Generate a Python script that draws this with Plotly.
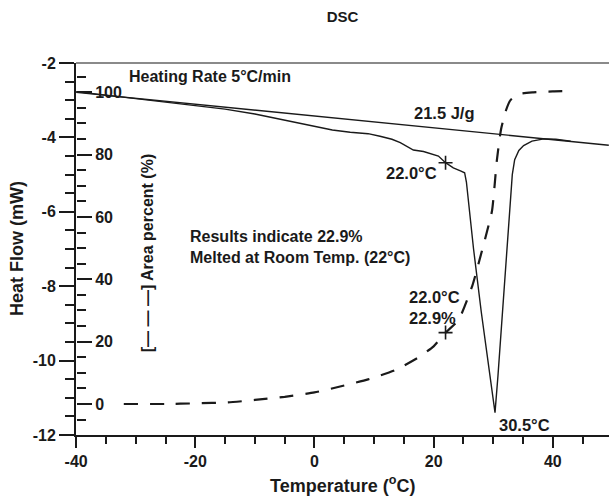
import plotly.graph_objects as go

# ---------------- data ----------------
dsc_temp = [-40, -35, -30, -25, -20, -15, -10, -6, -3, 0, 3, 6, 9, 11, 13, 14.4, 15.5, 16.6,
            18.3, 20, 20.8, 22, 23.3, 24.5, 25.2, 25.5, 26.7, 28, 29.3, 30.3, 30.8, 31.5, 32.2,
            32.8, 33.2, 33.6, 34.3, 35.1, 36.5, 38.5, 40.5, 43]
dsc_heat = [-2.77, -2.86, -2.95, -3.04, -3.13, -3.24, -3.37, -3.5, -3.6, -3.7, -3.8, -3.86, -3.9,
            -3.97, -4.05, -4.14, -4.25, -4.34, -4.38, -4.45, -4.5, -4.68, -4.82, -4.9, -4.95, -5.2,
            -7.0, -8.7, -10.2, -11.4, -10.4, -8.8, -7.03, -5.8, -5.0, -4.6, -4.35, -4.22, -4.1,
            -4.04, -4.05, -4.1]

base_temp = [-40, 49.4]
base_heat = [-2.79, -4.21]

area_temp = [-32, -25, -20, -14.5, -10, -5, 0, 4.3, 9, 13.6, 17.5, 20, 22, 24.2, 26.5, 28.5,
             29.8, 30.6, 31.3, 32.1, 32.9, 34.5, 36.7, 40, 43]
area_pct = [0, 0, 0.2, 0.5, 1.3, 2.3, 3.7, 5.6, 7.9, 10.9, 15, 18.5, 22.9, 27, 38, 52,
            62, 78, 88, 94, 97.5, 99.5, 100, 100.3, 100.4]

mark_temp = [22.0]
mark_heat = [-4.68]
mark_pct = [22.9]

x_ticks = [-40, -20, 0, 20, 40]
x_labels = ["-40", "-20", "0", "20", "40"]
y_ticks = [-12, -10, -8, -6, -4, -2]
y_labels = ["-12", "-10", "-8", "-6", "-4", "-2"]
y2_ticks = [0, 20, 40, 60, 80, 100]
y2_labels = ["0", "20", "40", "60", "80", "100"]

FONT = "Liberation Sans, Arial, Helvetica, sans-serif"
INK = "#1a1a1a"

fig = go.Figure()

fig.add_trace(go.Scatter(x=base_temp, y=base_heat, mode="lines",
                         line=dict(color=INK, width=1.4), showlegend=False, hoverinfo="skip"))
fig.add_trace(go.Scatter(x=dsc_temp, y=dsc_heat, mode="lines",
                         line=dict(color=INK, width=1.4), showlegend=False))
fig.add_trace(go.Scatter(x=area_temp, y=area_pct, yaxis="y2", mode="lines",
                         line=dict(color=INK, width=2.2, dash="14px,12px", shape="spline",
                                   smoothing=0.5),
                         showlegend=False))
fig.add_trace(go.Scatter(x=mark_temp, y=mark_heat, mode="markers",
                         marker=dict(symbol="cross-thin", size=10, line=dict(width=1.6, color=INK)),
                         showlegend=False))
fig.add_trace(go.Scatter(x=mark_temp, y=mark_pct, yaxis="y2", mode="markers",
                         marker=dict(symbol="cross-thin", size=10, line=dict(width=1.6, color=INK)),
                         showlegend=False))

tickfont = dict(family=FONT, size=16, color=INK, weight="bold")

fig.update_layout(
    width=609, height=497,
    margin=dict(l=76, r=0, t=63, b=62, autoexpand=False),
    paper_bgcolor="white", plot_bgcolor="white",
    font=dict(family=FONT, color=INK),
    title=dict(text="<b>DSC</b>", x=0.5, xref="paper", xanchor="center",
               y=1 - 17 / 497, yanchor="middle", font=dict(size=15, family=FONT, color=INK)),
    xaxis=dict(range=[-40.02, 49.43], tickmode="array", tickvals=x_ticks, ticktext=x_labels,
               ticks="outside", ticklen=11, tickwidth=1.5, tickcolor=INK,
               showline=True, linecolor=INK, linewidth=2, showgrid=False, zeroline=False,
               automargin=False,
               minor=dict(dtick=5, tick0=-40, ticks="outside", ticklen=7, tickwidth=1.5,
                          tickcolor=INK, showgrid=False),
               tickfont=tickfont),
    yaxis=dict(range=[-12, -2], tickmode="array", tickvals=y_ticks, ticktext=y_labels,
               ticks="outside", ticklen=15, tickwidth=1.5, tickcolor=INK,
               showline=True, linecolor=INK, linewidth=2, showgrid=False, zeroline=False,
               automargin=False,
               minor=dict(dtick=0.5, tick0=-12, ticks="outside", ticklen=9, tickwidth=1.5,
                          tickcolor=INK, showgrid=False),
               tickfont=tickfont),
    yaxis2=dict(overlaying="y", side="right", anchor="free", position=0,
                range=[-9.95, 109.4],
                tickmode="array", tickvals=y2_ticks, ticktext=y2_labels,
                ticks="outside", ticklen=15, tickwidth=1.5, tickcolor=INK,
                automargin=False,
                showline=False, showgrid=False, zeroline=False,
                minor=dict(dtick=5, tick0=0, ticks="outside", ticklen=9, tickwidth=1.5,
                           tickcolor=INK, showgrid=False),
                tickfont=tickfont),
    shapes=[dict(type="line", xref="paper", yref="paper", x0=0, x1=1, y0=1, y1=1,
                 line=dict(color="#8a8a8a", width=2))],
)

ann_font = dict(family=FONT, size=16, color=INK)
small_font = dict(family=FONT, size=16.5, color=INK)
annotations = [
    dict(x=-31.4, y=-2.35, text="<b>Heating Rate 5°C/min</b>", xanchor="left", yanchor="middle"),
    dict(x=21.9, y=-3.35, text="<b>21.5 J/g</b>", xanchor="center", yanchor="middle",
         font=small_font),
    dict(x=20.95, y=-4.96, text="<b>22.0°C</b>", xanchor="right", yanchor="middle",
         font=small_font),
    dict(x=-21.2, y=-6.94, text="<b>Results indicate 22.9%<br>Melted at Room Temp. (22°C)</b>",
         xanchor="left", yanchor="middle", align="left"),
    dict(x=15.6, y=-8.58, text="<b>22.0°C<br>22.9%</b>", xanchor="left", yanchor="middle",
         align="left", font=small_font),
    dict(x=30.7, y=-11.73, text="<b>30.5°C</b>", xanchor="left", yanchor="middle",
         font=small_font),
    dict(x=-28.0, y=-7.10, text="<b>[\u2014 \u2014 \u2014] Area percent (%)</b>", textangle=-90,
         xanchor="center", yanchor="middle"),
]
for a in annotations:
    a.setdefault("font", ann_font)
    a.update(xref="x", yref="y", showarrow=False)

# axis titles placed in paper coordinates
annotations += [
    dict(x=0.5, y=(435 - 484) / 372, xref="paper", yref="paper",
         text="<b>Temperature (<sup>o</sup>C)</b>", showarrow=False,
         xanchor="center", yanchor="middle", font=dict(family=FONT, size=18, color=INK)),
    dict(x=(17 - 76) / 533, y=0.5, xref="paper", yref="paper",
         text="<b>Heat Flow (mW)</b>", showarrow=False, textangle=-90,
         xanchor="center", yanchor="middle", font=dict(family=FONT, size=18, color=INK)),
]
fig.update_layout(annotations=annotations)

fig.write_html("out.html", config={"displayModeBar": False},
               post_script="document.body.style.margin='0';")
